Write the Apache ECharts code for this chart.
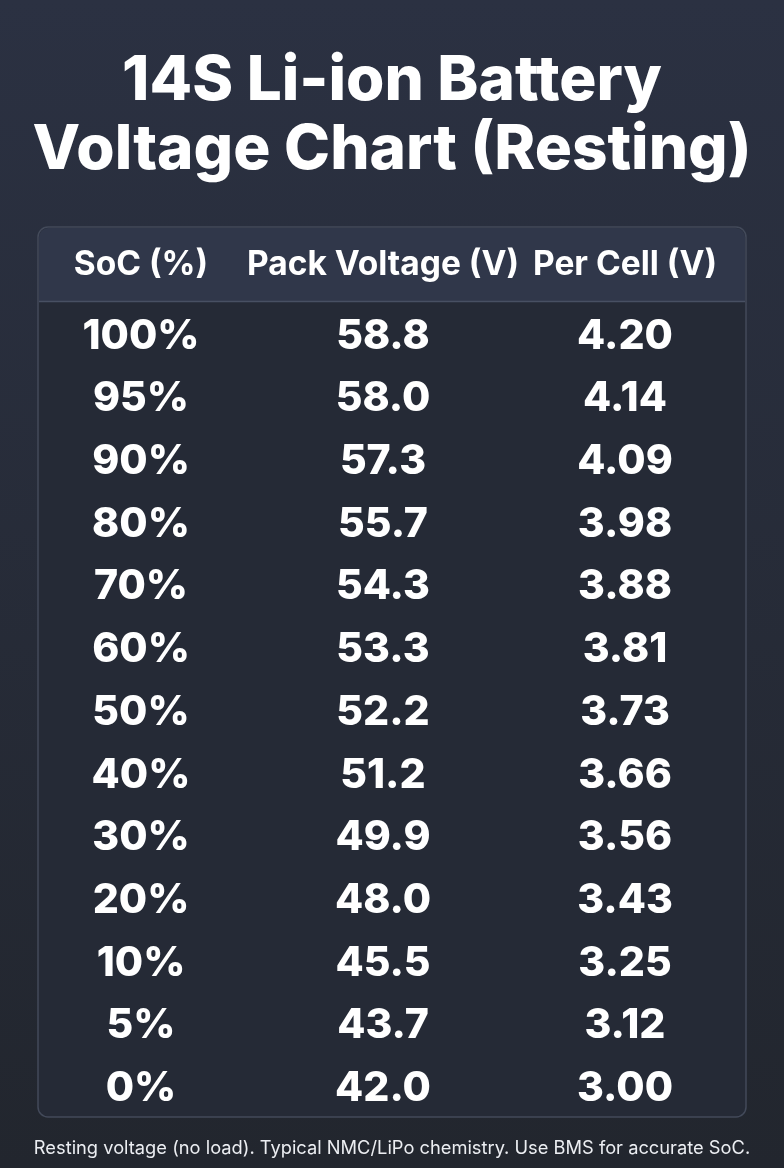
<!DOCTYPE html>
<html>
<head>
<meta charset="utf-8">
<script src="https://cdn.jsdelivr.net/npm/echarts@6/dist/echarts.min.js"></script>
<style>
    html, body { margin: 0; padding: 0; background: #262b37; }
    #main { width: 784px; height: 1168px; }
</style>
</head>
<body>
<div id="main"></div>
<script>
// 表头与数据
var headers = ['SoC (%)', 'Pack Voltage (V)', 'Per Cell (V)'];
var socLabels = ['100%', '95%', '90%', '80%', '70%', '60%', '50%', '40%', '30%', '20%', '10%', '5%', '0%'];
var packVoltage = [58.8, 58.0, 57.3, 55.7, 54.3, 53.3, 52.2, 51.2, 49.9, 48.0, 45.5, 43.7, 42.0];
var cellVoltage = [4.20, 4.14, 4.09, 3.98, 3.88, 3.81, 3.73, 3.66, 3.56, 3.43, 3.25, 3.12, 3.00];

var FONT = 'Inter';

// 把三列拼成散点数据，第三项为显示文字
function buildCells() {
    var arr = [];
    for (var i = 0; i < socLabels.length; i++) {
        arr.push([0, i, socLabels[i]]);
        arr.push([1, i, packVoltage[i].toFixed(1)]);
        arr.push([2, i, cellVoltage[i].toFixed(2)]);
    }
    return arr;
}

var myChart = echarts.init(document.getElementById('main'));

var option = {
    backgroundColor: {
        type: 'linear', x: 0, y: 0, x2: 0, y2: 1,
        colorStops: [
            {offset: 0, color: '#2b3142'},
            {offset: 1, color: '#22262e'}
        ]
    },
    title: [
        {
            text: '14S Li-ion Battery\nVoltage Chart (Resting)',
            left: 'center',
            top: 42,
            textStyle: {
                color: '#ffffff',
                fontFamily: FONT,
                fontWeight: 800,
                fontSize: 62,
                lineHeight: 69
            }
        },
        {
            text: 'Resting voltage (no load). Typical NMC/LiPo chemistry. Use BMS for accurate SoC.',
            left: 'center',
            top: 1135,
            textStyle: {
                color: '#eceef2',
                fontFamily: FONT,
                fontWeight: 'normal',
                fontSize: 18.3
            }
        }
    ],
    graphic: [
        {   // 表格外框
            type: 'rect',
            z: -10,
            shape: {x: 38, y: 227, width: 708, height: 890, r: 10},
            style: {fill: '#252a36', stroke: '#434a5a', lineWidth: 1.5}
        },
        {   // 表头底色
            type: 'rect',
            z: -9,
            shape: {x: 39, y: 228, width: 706, height: 73, r: [9, 9, 0, 0]},
            style: {fill: '#30374a'}
        },
        {
            type: 'line',
            z: -8,
            shape: {x1: 39, y1: 301.5, x2: 745, y2: 301.5},
            style: {stroke: '#485063', lineWidth: 1.5}
        }
    ],
    grid: {
        left: 20,
        right: 38,
        top: 305,
        bottom: 48
    },
    xAxis: {
        type: 'category',
        position: 'top',
        data: headers,
        axisLine: {show: false},
        axisTick: {show: false},
        splitLine: {show: false},
        axisLabel: {
            interval: 0,
            color: '#ffffff',
            fontFamily: FONT,
            fontWeight: 700,
            fontSize: 33.5,
            margin: 23
        }
    },
    yAxis: {
        type: 'category',
        inverse: true,
        data: socLabels,
        axisLine: {show: false},
        axisTick: {show: false},
        axisLabel: {show: false},
        splitLine: {show: false}
    },
    series: [
        {
            type: 'scatter',
            symbolSize: 0,
            itemStyle: {opacity: 1},
            data: buildCells(),
            label: {
                show: true,
                position: 'inside',
                formatter: function (p) {
                    return p.data[2];
                },
                color: '#ffffff',
                fontFamily: FONT,
                fontWeight: 800,
                fontSize: 41
            },
            silent: true
        }
    ]
};
myChart.setOption(option);
</script>
</body>
</html>
